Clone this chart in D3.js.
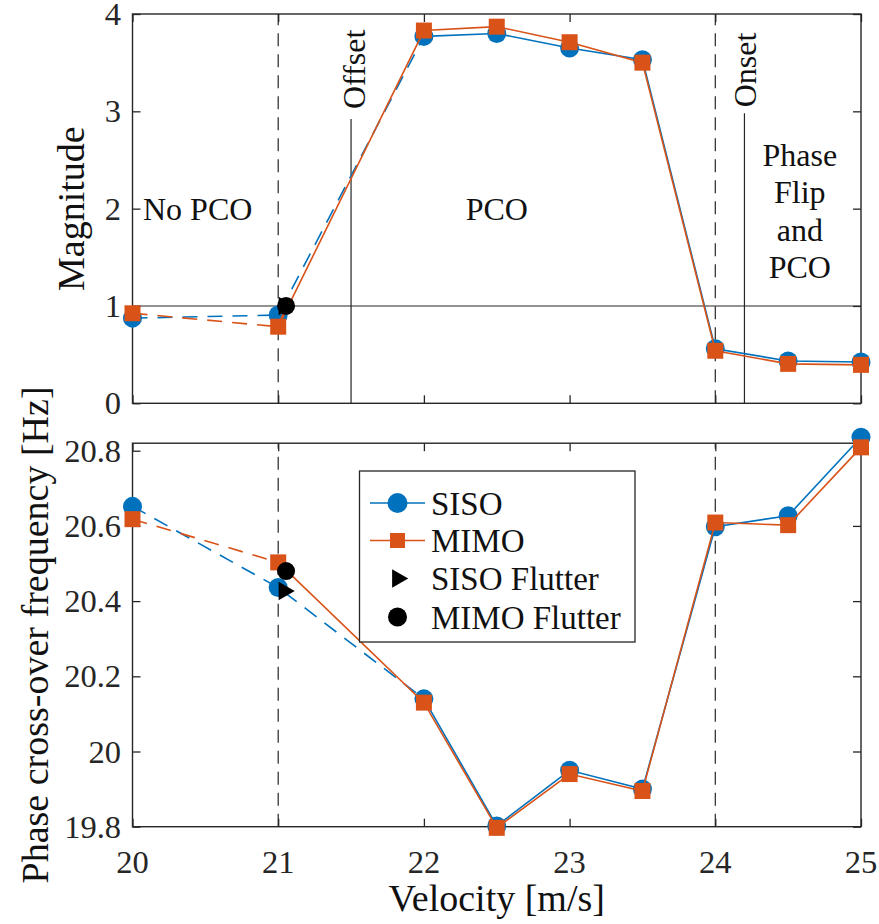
<!DOCTYPE html>
<html><head><meta charset="utf-8">
<script src="https://cdn.jsdelivr.net/npm/d3@7"></script>
</head><body style="margin:0">
<svg id="chart" width="879" height="924"></svg>
<script>
// ---- data ----
const velocity = [20, 21, 22, 22.5, 23, 23.5, 24, 24.5, 25];
const sisoMagnitude = [0.875, 0.907, 3.77, 3.80, 3.65, 3.53, 0.56, 0.435, 0.425];
const mimoMagnitude = [0.925, 0.787, 3.83, 3.87, 3.71, 3.50, 0.54, 0.405, 0.395];
const sisoFrequency = [20.652, 20.436, 20.14, 19.802, 19.95, 19.90, 20.598, 20.627, 20.836];
const mimoFrequency = [20.618, 20.503, 20.13, 19.797, 19.94, 19.895, 20.609, 20.602, 20.809];
const sisoFlutterVelocity = 21.04, sisoFlutterMagnitude = 1.0, sisoFlutterFrequency = 20.427;
const mimoFlutterVelocity = 21.054, mimoFlutterMagnitude = 1.0, mimoFlutterFrequency = 20.48;
const velocityTicks = [20, 21, 22, 23, 24, 25];
const velocityTickLabels = ["20", "21", "22", "23", "24", "25"];
const magnitudeTicks = [0, 1, 2, 3, 4];
const magnitudeTickLabels = ["0", "1", "2", "3", "4"];
const frequencyTicks = [19.8, 20, 20.2, 20.4, 20.6, 20.8];
const frequencyTickLabels = ["19.8", "20", "20.2", "20.4", "20.6", "20.8"];
const regimeBoundaries = [21, 24];
const offsetVelocity = 21.5, offsetTop = 2.92;
const onsetVelocity = 24.2, onsetTop = 2.98;
const legendLabels = ["SISO", "MIMO", "SISO Flutter", "MIMO Flutter"];

// ---- styles ----
const BLUE = "#0072BD", ORANGE = "#D95319", AX = "#262626";
const FONT = '"Liberation Serif"';
const svg = d3.select("#chart");
const x = d3.scaleLinear().domain([20, 25]).range([132.5, 861]);
const yMag = d3.scaleLinear().domain([0, 4]).range([403.3, 14]);
const yFreq = d3.scaleLinear().domain([19.8, 20.82]).range([826.7, 443.2]);

function txt(sel, size) {
  return sel.style("font-family", FONT).style("font-size", size + "px");
}

function axes(y, ticks, labels, showX) {
  const [y0, y1] = y.range();
  const g = svg.append("g");
  g.append("g").attr("transform", `translate(0,${y0})`)
    .call(d3.axisBottom(x).tickValues(velocityTicks).tickSizeInner(-8).tickSizeOuter(0).tickFormat(""));
  g.append("g").attr("transform", `translate(0,${y1})`)
    .call(d3.axisTop(x).tickValues(velocityTicks).tickSizeInner(-8).tickSizeOuter(0).tickFormat(""));
  g.append("g").attr("transform", `translate(${x.range()[0]},0)`)
    .call(d3.axisLeft(y).tickValues(ticks).tickSizeInner(-8).tickSizeOuter(0).tickFormat(""));
  g.append("g").attr("transform", `translate(${x.range()[1]},0)`)
    .call(d3.axisRight(y).tickValues(ticks).tickSizeInner(-8).tickSizeOuter(0).tickFormat(""));
  g.selectAll(".domain").remove();
  g.selectAll("text").remove();
  g.selectAll(".tick line").attr("stroke", AX).attr("stroke-width", 1.3);
  g.append("rect").attr("x", x.range()[0]).attr("y", y1)
    .attr("width", x.range()[1] - x.range()[0]).attr("height", y0 - y1)
    .attr("fill", "none").attr("stroke", AX).attr("stroke-width", 1.4);
  // tick labels as plain texts placed by the scales
  if (showX) {
    velocityTicks.forEach((v, i) => {
      txt(svg.append("text"), 32.5).attr("x", x(v)).attr("y", y0 + 46)
        .attr("text-anchor", "middle").attr("fill", AX).text(velocityTickLabels[i]);
    });
  }
  ticks.forEach((v, i) => {
    txt(svg.append("text"), 32.5).attr("x", x.range()[0] - 11.5).attr("y", y(v) + 11)
      .attr("text-anchor", "end").attr("fill", AX).text(labels[i]);
  });
}

function refLines(y) {
  const [y0, y1] = y.range();
  svg.append("g").selectAll("line").data(regimeBoundaries).join("line")
    .attr("x1", d => x(d)).attr("x2", d => x(d)).attr("y1", y0).attr("y2", y1)
    .attr("stroke", AX).attr("stroke-width", 1.2).attr("stroke-dasharray", "13,8");
}

function series(y, values, color, dashIdx, solidStart, marker) {
  const line = d3.line().x(d => x(d[0])).y(d => y(d[1]));
  const pts = velocity.map((v, i) => [v, values[i]]);
  const dashed = pts.slice(0, dashIdx + 1);
  const solid = solidStart.concat(pts.slice(dashIdx));
  svg.append("path").attr("d", line(dashed)).attr("fill", "none").attr("stroke", color)
    .attr("stroke-width", 1.6).attr("stroke-dasharray", "15,10");
  svg.append("path").attr("d", line(solid)).attr("fill", "none").attr("stroke", color)
    .attr("stroke-width", 1.6);
  const g = svg.append("g");
  if (marker === "circle") {
    g.selectAll("circle").data(pts).join("circle")
      .attr("cx", d => x(d[0])).attr("cy", d => y(d[1])).attr("r", 9.5).attr("fill", color);
  } else {
    g.selectAll("rect").data(pts).join("rect")
      .attr("x", d => x(d[0]) - 8).attr("y", d => y(d[1]) - 8).attr("width", 16).attr("height", 16)
      .attr("fill", color);
  }
}

function flutter(y, sv, sy, mv, my) {
  const tri = d3.symbol().type(d3.symbolTriangle).size(150);
  svg.append("path").attr("d", tri()).attr("fill", "#000")
    .attr("transform", `translate(${x(sv)},${y(sy)}) rotate(90)`);
  svg.append("circle").attr("cx", x(mv)).attr("cy", y(my)).attr("r", 9).attr("fill", "#000");
}

// ---- top panel ----
axes(yMag, magnitudeTicks, magnitudeTickLabels, false);
refLines(yMag);
svg.append("line").attr("x1", x(20)).attr("x2", x(25)).attr("y1", yMag(1)).attr("y2", yMag(1))
  .attr("stroke", AX).attr("stroke-width", 1.2);
svg.append("line").attr("x1", x(offsetVelocity)).attr("x2", x(offsetVelocity))
  .attr("y1", yMag(0)).attr("y2", yMag(offsetTop)).attr("stroke", AX).attr("stroke-width", 1.2);
svg.append("line").attr("x1", x(onsetVelocity)).attr("x2", x(onsetVelocity))
  .attr("y1", yMag(0)).attr("y2", yMag(onsetTop)).attr("stroke", AX).attr("stroke-width", 1.2);
series(yMag, sisoMagnitude, BLUE, 2, [], "circle");
series(yMag, mimoMagnitude, ORANGE, 1, [[mimoFlutterVelocity, mimoFlutterMagnitude]], "square");
flutter(yMag, sisoFlutterVelocity, sisoFlutterMagnitude, mimoFlutterVelocity, mimoFlutterMagnitude);

txt(svg.append("text"), 32).attr("fill", "#111").attr("x", x(20.072)).attr("y", yMag(2) + 11).text("No PCO");
txt(svg.append("text"), 32).attr("fill", "#111").attr("x", x(22.5)).attr("y", yMag(2) + 11).attr("text-anchor", "middle").text("PCO");
["Phase", "Flip", "and", "PCO"].forEach((t, i) => {
  txt(svg.append("text"), 32).attr("fill", "#111").attr("x", x(24.58)).attr("y", 166 + i * 37.4)
    .attr("text-anchor", "middle").text(t);
});
txt(svg.append("text"), 32).attr("fill", "#111")
  .attr("transform", `translate(${x(offsetVelocity) + 14},${yMag(offsetTop) - 10}) rotate(-90)`).text("Offset");
txt(svg.append("text"), 32).attr("fill", "#111")
  .attr("transform", `translate(${x(onsetVelocity) + 12},${yMag(onsetTop) - 6}) rotate(-90)`).text("Onset");

// ---- bottom panel ----
axes(yFreq, frequencyTicks, frequencyTickLabels, true);
refLines(yFreq);
series(yFreq, sisoFrequency, BLUE, 2, [], "circle");
series(yFreq, mimoFrequency, ORANGE, 1, [[mimoFlutterVelocity, mimoFlutterFrequency]], "square");
flutter(yFreq, sisoFlutterVelocity, sisoFlutterFrequency, mimoFlutterVelocity, mimoFlutterFrequency);

// ---- axis labels ----
txt(svg.append("text"), 38).attr("fill", "#111").attr("text-anchor", "middle")
  .attr("x", (x.range()[0] + x.range()[1]) / 2).attr("y", 911).text("Velocity [m/s]");
txt(svg.append("text"), 38).attr("fill", "#111").attr("text-anchor", "middle")
  .attr("transform", `translate(84,${(yMag.range()[0] + yMag.range()[1]) / 2}) rotate(-90)`).text("Magnitude");
txt(svg.append("text"), 38).attr("fill", "#111").attr("text-anchor", "middle")
  .attr("transform", `translate(48,${(yFreq.range()[0] + yFreq.range()[1]) / 2}) rotate(-90)`).text("Phase cross-over frequency [Hz]");

// ---- legend ----
svg.append("rect").attr("x", 359.5).attr("y", 471).attr("width", 275.5).attr("height", 171)
  .attr("fill", "#fff").attr("stroke", AX).attr("stroke-width", 1.3);
const rowY = [503, 540.5, 578.5, 617];
const lx0 = 370, lx1 = 425, lxm = 397.5;
svg.append("line").attr("x1", lx0).attr("x2", lx1).attr("y1", rowY[0]).attr("y2", rowY[0]).attr("stroke", BLUE).attr("stroke-width", 1.6);
svg.append("circle").attr("cx", lxm).attr("cy", rowY[0]).attr("r", 10).attr("fill", BLUE);
svg.append("line").attr("x1", lx0).attr("x2", lx1).attr("y1", rowY[1]).attr("y2", rowY[1]).attr("stroke", ORANGE).attr("stroke-width", 1.6);
svg.append("rect").attr("x", lxm - 7.5).attr("y", rowY[1] - 7.5).attr("width", 15).attr("height", 15).attr("fill", ORANGE);
svg.append("path").attr("d", d3.symbol().type(d3.symbolTriangle).size(150)()).attr("fill", "#000")
  .attr("transform", `translate(${lxm},${rowY[2]}) rotate(90)`);
svg.append("circle").attr("cx", lxm).attr("cy", rowY[3]).attr("r", 9.5).attr("fill", "#000");
legendLabels.forEach((t, i) => {
  txt(svg.append("text"), 33).attr("x", 431).attr("y", rowY[i] + 11.5).attr("fill", "#111").text(t);
});
</script>
</body></html>
